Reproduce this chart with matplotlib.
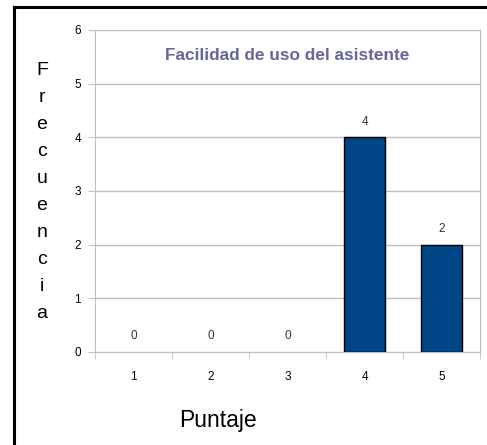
import numpy as np
import matplotlib.pyplot as plt
from matplotlib.lines import Line2D

plt.rcParams['font.family'] = ['Liberation Sans', 'DejaVu Sans']

puntajes = ['1', '2', '3', '4', '5']
frecuencia = [0, 0, 0, 4, 2]
y_ticks = [0, 1, 2, 3, 4, 5, 6]

grid_col = '#c0c0c0'
bar_col = '#004586'

fig = plt.figure(figsize=(4.87, 4.45), dpi=100)
ax = fig.add_axes([0.1951, 0.209, 0.7906, 0.7236])

x = np.arange(1, len(puntajes) + 1)
# empty categories get no outline
edge_w = [1 if v > 0 else 0 for v in frecuencia]
ax.bar(x, frecuencia, width=0.53, color=bar_col, edgecolor='black', linewidth=edge_w, zorder=3)

for xi, v in zip(x, frecuencia):
    ax.annotate(str(v), (xi, v), xytext=(0, 7), textcoords='offset points',
                ha='center', va='bottom', fontsize=8.5, color='#333333')

ax.set_xlim(0.5, 5.5)
ax.set_ylim(0, 6)
ax.set_yticks(y_ticks)
ax.set_xticks(x)
ax.set_xticklabels(puntajes)
ax.set_xticks(np.arange(0.5, 6.0, 1.0), minor=True)
ax.tick_params(axis='x', which='major', length=0, pad=14, labelsize=8.5, labelcolor='black')
ax.tick_params(axis='x', which='minor', length=5, color=grid_col)
ax.tick_params(axis='y', length=5, color=grid_col, pad=5, labelsize=8.5, labelcolor='black')
ax.yaxis.grid(True, color=grid_col, linewidth=1)
ax.set_axisbelow(True)
for side in ['left', 'bottom', 'right']:
    ax.spines[side].set_color(grid_col)
ax.spines['top'].set_visible(False)

ax.text(0.5, 0.92, 'Facilidad de uso del asistente', transform=ax.transAxes,
        ha='center', va='center', fontsize=12.4, fontweight='bold', color='#666699')

# vertical letters of the y label
fig.text(42 / 487, 1 - 62 / 445, '\n'.join('Frecuencia'), ha='center', va='top',
         fontsize=14, linespacing=1.77)
fig.text(218 / 487, 1 - 420 / 445, 'Puntaje', ha='center', va='center', fontsize=16.5)

# frame around the chart
fig.add_artist(Line2D([14 / 487, 14 / 487], [0, 1 - 7 / 445], color='black', linewidth=2.2))
fig.add_artist(Line2D([14 / 487, 1], [1 - 7 / 445, 1 - 7 / 445], color='black', linewidth=2.2))

fig.savefig('out.png', dpi=100)
